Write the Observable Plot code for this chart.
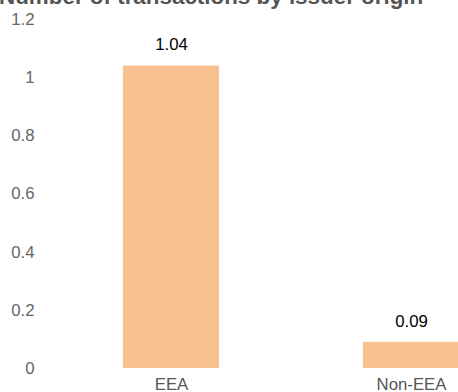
<!DOCTYPE html>
<html>
<head>
<meta charset="utf-8">
<script src="https://cdn.jsdelivr.net/npm/d3@7"></script>
<script src="https://cdn.jsdelivr.net/npm/@observablehq/plot@0.6"></script>
<style>
  html, body { margin: 0; padding: 0; background: #fff; overflow: hidden; }
  #wrap { position: relative; width: 458px; height: 392px; overflow: hidden; }
  #title { position: absolute; left: -1px; top: -16px; font: bold 22.4px "Liberation Sans", Arial, sans-serif; color: #555; white-space: nowrap; z-index: 2; }
  #chart { position: absolute; left: 0; top: 0; }
</style>
</head>
<body>
<div id="wrap">
  <div id="title">Number of transactions by issuer origin</div>
  <div id="chart"></div>
</div>
<script>
const categories = ["EEA", "Non-EEA"];
const values = [1.04, 0.09];
const valueLabels = ["1.04", "0.09"];
const yTicks = [0, 0.2, 0.4, 0.6, 0.8, 1, 1.2];

const data = categories.map((c, i) => ({cat: c, value: values[i], label: valueLabels[i]}));

const chart = Plot.plot({
  width: 458,
  height: 392,
  marginTop: 19,
  marginBottom: 24,
  marginLeft: 51,
  marginRight: 0,
  style: {fontFamily: "'Liberation Sans', Arial, sans-serif", fontSize: "16.8px", background: "transparent", overflow: "visible"},
  x: {domain: categories, range: [51, 531], paddingInner: 0.6, paddingOuter: 0.3, label: null},
  y: {domain: [0, 1.2], label: null},
  marks: [
    Plot.barY(data, {x: "cat", y: "value", fill: "#f9c08f"}),
    Plot.text(data, {x: "cat", y: "value", text: "label", dy: -21, fill: "#000", fontSize: 16.8}),
    Plot.axisY({ticks: yTicks, tickSize: 0, tickPadding: 17, tickFormat: d => String(d), color: "#666", fontSize: 16.8, label: null}),
    Plot.axisX({tickSize: 0, tickPadding: 10, color: "#555", fontSize: 16.8, label: null})
  ]
});
document.getElementById("chart").appendChild(chart);
</script>
</body>
</html>
